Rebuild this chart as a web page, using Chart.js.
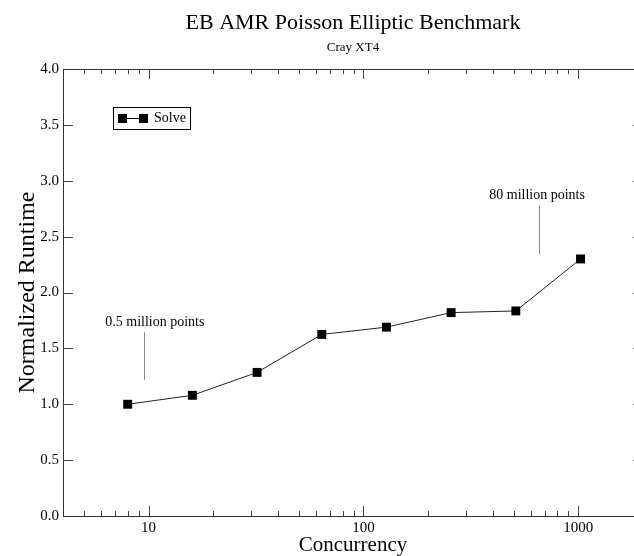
<!DOCTYPE html>
<html>
<head>
<meta charset="utf-8">
<script src="https://cdn.jsdelivr.net/npm/chart.js@4"></script>
<style>
  html, body { margin: 0; padding: 0; overflow: hidden; background: #fff; }
  #wrap { width: 660px; height: 575px; }
</style>
</head>
<body>
<div id="wrap"><canvas id="myChart" width="660" height="575"></canvas></div>
<script>
// data
const concurrency = [8, 16, 32, 64, 128, 256, 512, 1024];
const runtime = [1.0, 1.08, 1.285, 1.625, 1.69, 1.82, 1.835, 2.30];
const xTickValues = [10, 100, 1000];
const seriesName = "Solve";
const titleText = "EB AMR Poisson Elliptic Benchmark";
const subtitleText = "Cray XT4";
const noteLabels = ["0.5 million points", "80 million points"];

const serif = "'Liberation Serif', 'DejaVu Serif', serif";

// frame, inward ticks, titles, notes and legend
const decorations = {
  id: "decorations",
  afterDatasetsDraw(chart) {
    const { ctx, chartArea: a } = chart;
    const xs = chart.scales.x;
    const ys = chart.scales.y;
    ctx.save();

    // frame
    ctx.strokeStyle = "#333";
    ctx.lineWidth = 1;
    ctx.strokeRect(a.left + 0.5, a.top + 0.5, a.right - a.left, a.bottom - a.top);

    // x ticks (major + minor) on bottom and top
    ctx.strokeStyle = "#444";
    ctx.beginPath();
    for (let d = 1; d <= 1000; d *= 10) {
      for (let k = 1; k <= 9; k++) {
        const v = k * d;
        if (v <= xs.min || v >= xs.max) continue;
        const px = Math.round(xs.getPixelForValue(v)) + 0.5;
        const len = k === 1 ? 10 : 5;
        ctx.moveTo(px, a.bottom); ctx.lineTo(px, a.bottom - len);
        ctx.moveTo(px, a.top); ctx.lineTo(px, a.top + len);
      }
    }
    // y ticks on left and right
    ys.ticks.forEach(t => {
      if (t.value <= ys.min || t.value >= ys.max) return;
      const py = Math.round(ys.getPixelForValue(t.value)) + 0.5;
      ctx.moveTo(a.left, py); ctx.lineTo(a.left + 10, py);
      ctx.moveTo(a.right, py); ctx.lineTo(a.right - 10, py);
    });
    ctx.stroke();

    // title + subtitle
    const cx = (a.left + a.right) / 2;
    ctx.fillStyle = "#000";
    ctx.textAlign = "center";
    ctx.textBaseline = "middle";
    ctx.font = "22px " + serif;
    ctx.fillText(titleText, cx, 23);
    ctx.font = "13px " + serif;
    ctx.fillText(subtitleText, cx, 48);

    // notes with pointer lines
    const notes = [
      { text: noteLabels[0], tx: 10.7, ty: 1.735, lx: 9.5, y0: 1.215, y1: 1.645 },
      { text: noteLabels[1], tx: 643, ty: 2.87, lx: 657, y0: 2.34, y1: 2.78 }
    ];
    ctx.font = "14px " + serif;
    ctx.strokeStyle = "#888";
    notes.forEach(n => {
      ctx.fillText(n.text, xs.getPixelForValue(n.tx), ys.getPixelForValue(n.ty));
      const lx = Math.round(xs.getPixelForValue(n.lx)) + 0.5;
      ctx.beginPath();
      ctx.moveTo(lx, ys.getPixelForValue(n.y0));
      ctx.lineTo(lx, ys.getPixelForValue(n.y1));
      ctx.stroke();
    });

    // legend box
    const bx = 113, by = 107, bw = 77, bh = 22;
    ctx.strokeStyle = "#000";
    ctx.strokeRect(bx + 0.5, by + 0.5, bw, bh);
    const my = by + bh / 2 + 0.5;
    ctx.beginPath();
    ctx.moveTo(bx + 9, my); ctx.lineTo(bx + 31, my);
    ctx.stroke();
    ctx.fillStyle = "#000";
    ctx.fillRect(bx + 5, my - 4.5, 9, 9);
    ctx.fillRect(bx + 26, my - 4.5, 9, 9);
    ctx.textAlign = "left";
    ctx.font = "14px " + serif;
    ctx.fillText(seriesName, bx + 41, my);

    ctx.restore();
  }
};

new Chart(document.getElementById("myChart").getContext("2d"), {
  type: "scatter",
  data: {
    datasets: [{
      label: seriesName,
      data: concurrency.map((c, i) => ({ x: c, y: runtime[i] })),
      showLine: true,
      borderColor: "#222",
      borderWidth: 1,
      pointStyle: "rect",
      pointRadius: 6.3,
      pointBorderWidth: 0,
      pointBackgroundColor: "#000",
      pointBorderColor: "#000"
    }]
  },
  options: {
    responsive: false,
    animation: false,
    layout: { padding: { top: 69, right: 17, left: 0, bottom: 0 } },
    plugins: {
      legend: { display: false },
      title: { display: false },
      tooltip: { enabled: false }
    },
    scales: {
      x: {
        type: "logarithmic",
        min: 4,
        max: 2000,
        afterFit: s => { s.height = 59; },
        afterBuildTicks: s => { s.ticks = xTickValues.map(v => ({ value: v })); },
        grid: { display: false, drawTicks: false },
        border: { display: false },
        ticks: {
          color: "#000",
          padding: 3,
          font: { family: serif, size: 15 },
          callback: v => String(v),
          maxRotation: 0
        },
        title: {
          display: true,
          text: "Concurrency",
          color: "#000",
          font: { family: serif, size: 21 },
          padding: { top: 0, bottom: 17 }
        }
      },
      y: {
        min: 0,
        max: 4,
        afterFit: s => { s.width = 63; },
        grid: { display: false, drawTicks: false },
        border: { display: false },
        ticks: {
          stepSize: 0.5,
          color: "#000",
          padding: 4,
          font: { family: serif, size: 15 },
          callback: v => Number(v).toFixed(1)
        },
        title: {
          display: true,
          text: "Normalized Runtime",
          color: "#000",
          font: { family: serif, size: 24 },
          padding: { top: 13, bottom: 0 }
        }
      }
    }
  },
  plugins: [decorations]
});
</script>
</body>
</html>
